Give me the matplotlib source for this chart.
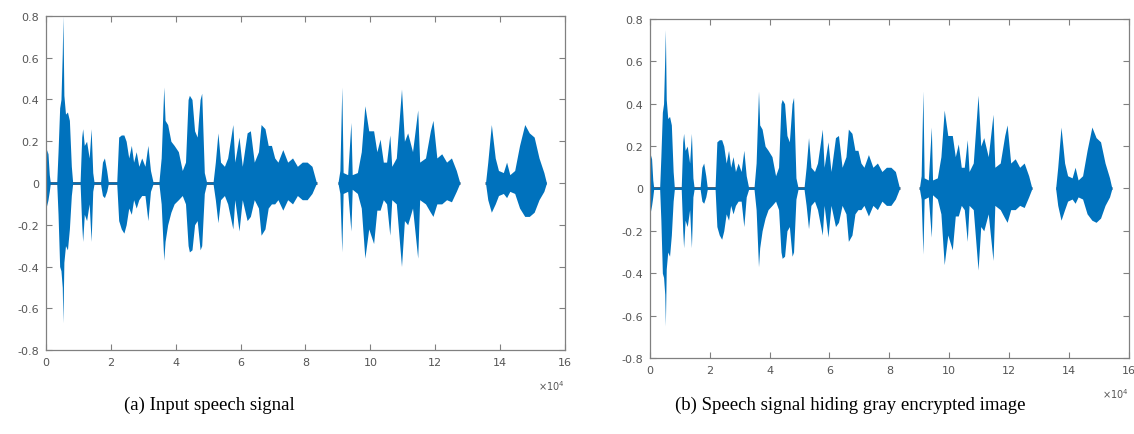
import numpy as np
import matplotlib.pyplot as plt

# envelope of the waveform, x in units of 1e4 samples
x_env = [0.00, 0.02, 0.06, 0.10, 0.13, 0.33, 0.37, 0.42, 0.46, 0.50, 0.52, 0.55, 0.60, 0.66,
         0.72, 0.78, 0.82, 1.05, 1.10, 1.13, 1.18, 1.25, 1.33, 1.39, 1.44, 1.48, 1.68, 1.74,
         1.80, 1.87, 1.92, 2.18, 2.24, 2.32, 2.40, 2.47, 2.55, 2.63, 2.70, 2.78, 2.86, 2.95,
         3.05, 3.14, 3.22, 3.30, 3.48, 3.55, 3.63, 3.67, 3.75, 3.85, 3.95, 4.08, 4.20, 4.30,
         4.38, 4.42, 4.50, 4.58, 4.66, 4.75, 4.80, 4.88, 4.95, 5.15, 5.22, 5.30, 5.38, 5.50,
         5.60, 5.76, 5.82, 5.95, 6.05, 6.20, 6.30, 6.42, 6.55, 6.63, 6.75, 6.85, 6.95, 7.05,
         7.15, 7.30, 7.45, 7.60, 7.75, 7.90, 8.05, 8.20, 8.34, 9.00, 9.06, 9.12, 9.16, 9.30,
         9.40, 9.44, 9.60, 9.72, 9.83, 9.95, 10.10, 10.20, 10.30, 10.40, 10.50, 10.60, 10.66,
         10.80, 10.96, 11.05, 11.15, 11.30, 11.46, 11.52, 11.70, 11.85, 11.93, 12.05, 12.20,
         12.35, 12.50, 12.65, 12.76, 13.55, 13.62, 13.73, 13.85, 13.95, 14.10, 14.20, 14.30,
         14.45, 14.60, 14.76, 14.90, 15.05, 15.20, 15.35, 15.43]

up_a = [0.03, 0.16, 0.14, 0.04, 0.004, 0.004, 0.15, 0.36, 0.40, 0.62, 0.80, 0.42, 0.33, 0.34,
        0.30, 0.08, 0.004, 0.004, 0.22, 0.26, 0.18, 0.20, 0.12, 0.26, 0.05, 0.004, 0.004, 0.10,
        0.12, 0.06, 0.004, 0.004, 0.22, 0.23, 0.23, 0.20, 0.12, 0.18, 0.10, 0.15, 0.08, 0.12,
        0.08, 0.18, 0.06, 0.004, 0.004, 0.12, 0.46, 0.30, 0.28, 0.20, 0.18, 0.15, 0.06, 0.10,
        0.40, 0.42, 0.40, 0.25, 0.22, 0.40, 0.43, 0.05, 0.004, 0.004, 0.10, 0.24, 0.10, 0.08,
        0.12, 0.28, 0.10, 0.22, 0.08, 0.24, 0.25, 0.10, 0.15, 0.28, 0.26, 0.18, 0.18, 0.12,
        0.10, 0.16, 0.10, 0.12, 0.08, 0.10, 0.10, 0.08, 0.0, 0.0, 0.06, 0.46, 0.05, 0.04,
        0.29, 0.04, 0.05, 0.15, 0.37, 0.25, 0.25, 0.15, 0.21, 0.10, 0.10, 0.23, 0.08,
        0.12, 0.45, 0.20, 0.24, 0.15, 0.35, 0.10, 0.12, 0.25, 0.30, 0.12, 0.14,
        0.10, 0.12, 0.06, 0.0, 0.0, 0.10, 0.28, 0.12, 0.06, 0.05, 0.10, 0.04,
        0.06, 0.18, 0.28, 0.24, 0.22, 0.12, 0.05, 0.0]

lo_a = [-0.03, -0.11, -0.08, -0.04, -0.004, -0.004, -0.15, -0.40, -0.42, -0.50, -0.67, -0.38, -0.30, -0.32,
        -0.22, -0.06, -0.004, -0.004, -0.20, -0.28, -0.15, -0.18, -0.10, -0.28, -0.04, -0.004, -0.004, -0.06,
        -0.07, -0.04, -0.004, -0.004, -0.18, -0.22, -0.24, -0.20, -0.12, -0.15, -0.08, -0.12, -0.08, -0.06,
        -0.06, -0.18, -0.04, -0.004, -0.004, -0.10, -0.37, -0.28, -0.20, -0.14, -0.10, -0.08, -0.06, -0.10,
        -0.30, -0.33, -0.32, -0.20, -0.18, -0.32, -0.30, -0.05, -0.004, -0.004, -0.08, -0.19, -0.08, -0.06,
        -0.10, -0.22, -0.08, -0.23, -0.08, -0.18, -0.16, -0.08, -0.12, -0.25, -0.22, -0.12, -0.10, -0.10,
        -0.08, -0.13, -0.08, -0.10, -0.06, -0.08, -0.08, -0.05, 0.0, 0.0, -0.05, -0.33, -0.05, -0.04,
        -0.23, -0.03, -0.05, -0.12, -0.36, -0.22, -0.29, -0.13, -0.13, -0.08, -0.10, -0.25, -0.08,
        -0.10, -0.40, -0.18, -0.20, -0.12, -0.36, -0.08, -0.10, -0.14, -0.16, -0.10, -0.10,
        -0.08, -0.09, -0.04, 0.0, 0.0, -0.08, -0.14, -0.10, -0.06, -0.05, -0.07, -0.04,
        -0.05, -0.12, -0.16, -0.16, -0.14, -0.08, -0.04, 0.0]

# panel (b): same speech, a few peaks read differently after embedding
changed_b = {0.52: (0.75, -0.65), 9.12: (0.46, -0.31), 10.96: (0.44, -0.385),
             11.46: (0.35, -0.34), 13.73: (0.29, -0.15), 14.76: (0.29, -0.15)}
up_b = list(up_a)
lo_b = list(lo_a)
for xv, (u, l) in changed_b.items():
    i = x_env.index(xv)
    up_b[i], lo_b[i] = u, l

# voiced segments (dark baseline)
seg_start = [0.0, 9.0, 13.55]
seg_end = [8.34, 12.76, 15.43]

xticks = [0, 2, 4, 6, 8, 10, 12, 14, 16]
yticks = [-0.8, -0.6, -0.4, -0.2, 0, 0.2, 0.4, 0.6, 0.8]
ylabels = ['-0.8', '-0.6', '-0.4', '-0.2', '0', '0.2', '0.4', '0.6', '0.8']

captions = ['(a) Input speech signal', '(b) Speech signal hiding gray encrypted image']

blue = '#0072BD'
grey = '#808080'

fig = plt.figure(figsize=(11.34, 4.35), dpi=100)
ax_a = fig.add_axes([0.0406, 0.193, 0.4576, 0.768])
ax_b = fig.add_axes([0.573, 0.175, 0.4226, 0.779])

for ax, up, lo in [(ax_a, up_a, lo_a), (ax_b, up_b, lo_b)]:
    ax.hlines([0] * len(seg_start), seg_start, seg_end, color='#35536e', lw=2.0, zorder=1)
    ax.fill_between(x_env, lo, up, color=blue, lw=0, zorder=2)
    ax.set_xlim(0, 16)
    ax.set_ylim(-0.8, 0.8)
    ax.set_xticks(xticks)
    ax.set_yticks(yticks)
    ax.set_yticklabels(ylabels)
    ax.tick_params(direction='in', length=4, width=0.8, colors=grey,
                   labelcolor='#555555', labelsize=8, top=True, right=True, pad=5)
    for s in ax.spines.values():
        s.set_color(grey)
        s.set_linewidth(0.9)
    ax.text(1.0, -0.085, r'$\times10^{4}$', transform=ax.transAxes,
            ha='right', va='top', fontsize=7, color='#555555')

fig.text(0.185, 0.069, captions[0], ha='center', va='center',
         fontsize=13.5, family='Liberation Serif')
fig.text(0.750, 0.069, captions[1], ha='center', va='center',
         fontsize=13.5, family='Liberation Serif')

fig.savefig('out.png', dpi=100)
